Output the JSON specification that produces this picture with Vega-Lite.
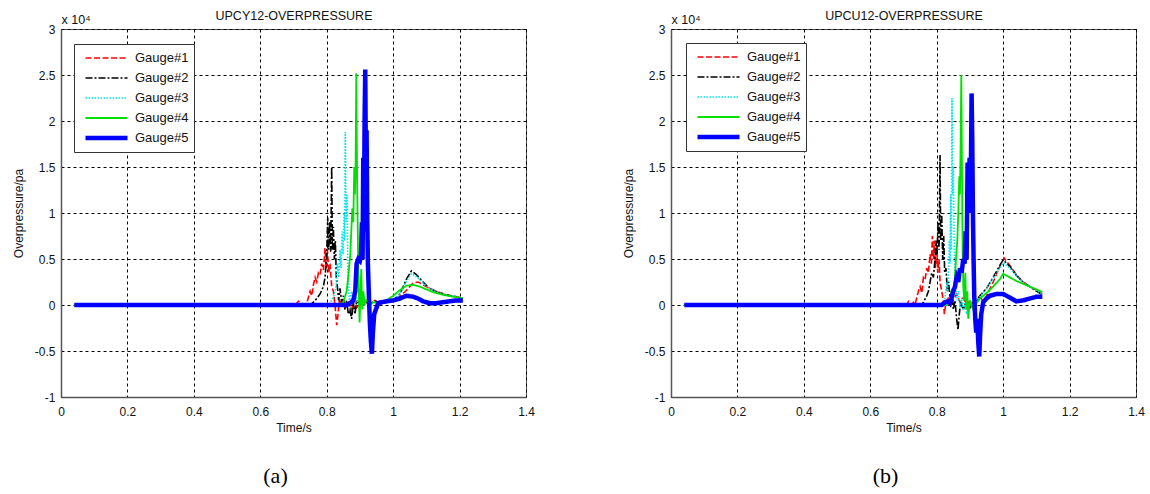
{
"$schema": "https://vega.github.io/schema/vega-lite/v6.json",
"padding": {"left": 11, "top": 8, "right": 5, "bottom": 5},
"spacing": 145,
"bounds": "flush",
"config": {
  "view": {"stroke": "#555", "strokeWidth": 1},
  "font": "Liberation Sans",
  "axis": {"labelFont": "Liberation Sans", "labelFontSize": 12, "labelColor": "#111", "titleFont": "Liberation Sans", "titleFontSize": 12, "titleFontWeight": "normal", "titleColor": "#111", "gridColor": "#000", "gridDash": [3, 3], "gridWidth": 1, "gridOpacity": 1, "domainColor": "#555", "domainWidth": 1.5, "ticks": false}
},
"resolve": {"scale": {"color": "independent", "strokeDash": "independent", "strokeWidth": "independent"}},
"datasets": {
"a": [
{"g":"Gauge#1","t":0.04,"v":0},{"g":"Gauge#1","t":0.705,"v":0},{"g":"Gauge#1","t":0.715,"v":400},{"g":"Gauge#1","t":0.722,"v":300},{"g":"Gauge#1","t":0.728,"v":0},{"g":"Gauge#1","t":0.74,"v":200},{"g":"Gauge#1","t":0.75,"v":1500},{"g":"Gauge#1","t":0.755,"v":1000},{"g":"Gauge#1","t":0.76,"v":2200},{"g":"Gauge#1","t":0.765,"v":3000},{"g":"Gauge#1","t":0.77,"v":2500},{"g":"Gauge#1","t":0.775,"v":3500},{"g":"Gauge#1","t":0.78,"v":3300},{"g":"Gauge#1","t":0.785,"v":4500},{"g":"Gauge#1","t":0.79,"v":3800},{"g":"Gauge#1","t":0.795,"v":6200},{"g":"Gauge#1","t":0.798,"v":4000},{"g":"Gauge#1","t":0.802,"v":6000},{"g":"Gauge#1","t":0.806,"v":3500},{"g":"Gauge#1","t":0.81,"v":4500},{"g":"Gauge#1","t":0.815,"v":2000},{"g":"Gauge#1","t":0.82,"v":1500},{"g":"Gauge#1","t":0.825,"v":0},{"g":"Gauge#1","t":0.83,"v":-2200},{"g":"Gauge#1","t":0.834,"v":-1000},{"g":"Gauge#1","t":0.838,"v":500},{"g":"Gauge#1","t":0.845,"v":200},{"g":"Gauge#1","t":0.855,"v":-300},{"g":"Gauge#1","t":0.865,"v":300},{"g":"Gauge#1","t":0.875,"v":-500},{"g":"Gauge#1","t":0.882,"v":600},{"g":"Gauge#1","t":0.89,"v":-300},{"g":"Gauge#1","t":0.9,"v":200},{"g":"Gauge#1","t":0.91,"v":0},{"g":"Gauge#1","t":0.92,"v":300},{"g":"Gauge#1","t":0.93,"v":100},{"g":"Gauge#1","t":0.945,"v":500},{"g":"Gauge#1","t":0.955,"v":100},{"g":"Gauge#1","t":0.97,"v":200},{"g":"Gauge#1","t":0.985,"v":300},{"g":"Gauge#1","t":1.0,"v":400},{"g":"Gauge#1","t":1.02,"v":900},{"g":"Gauge#1","t":1.04,"v":1600},{"g":"Gauge#1","t":1.06,"v":2400},{"g":"Gauge#1","t":1.075,"v":2500},{"g":"Gauge#1","t":1.09,"v":2200},{"g":"Gauge#1","t":1.11,"v":1800},{"g":"Gauge#1","t":1.13,"v":1500},{"g":"Gauge#1","t":1.16,"v":1100},{"g":"Gauge#1","t":1.19,"v":900},{"g":"Gauge#1","t":1.21,"v":700},
{"g":"Gauge#2","t":0.04,"v":0},{"g":"Gauge#2","t":0.75,"v":0},{"g":"Gauge#2","t":0.76,"v":300},{"g":"Gauge#2","t":0.77,"v":700},{"g":"Gauge#2","t":0.78,"v":1200},{"g":"Gauge#2","t":0.79,"v":2000},{"g":"Gauge#2","t":0.795,"v":3000},{"g":"Gauge#2","t":0.8,"v":5500},{"g":"Gauge#2","t":0.803,"v":9500},{"g":"Gauge#2","t":0.806,"v":6000},{"g":"Gauge#2","t":0.809,"v":9000},{"g":"Gauge#2","t":0.812,"v":5800},{"g":"Gauge#2","t":0.815,"v":15000},{"g":"Gauge#2","t":0.817,"v":6000},{"g":"Gauge#2","t":0.82,"v":8500},{"g":"Gauge#2","t":0.823,"v":5000},{"g":"Gauge#2","t":0.826,"v":7000},{"g":"Gauge#2","t":0.829,"v":3000},{"g":"Gauge#2","t":0.832,"v":2000},{"g":"Gauge#2","t":0.836,"v":500},{"g":"Gauge#2","t":0.84,"v":1800},{"g":"Gauge#2","t":0.845,"v":300},{"g":"Gauge#2","t":0.85,"v":1000},{"g":"Gauge#2","t":0.855,"v":-500},{"g":"Gauge#2","t":0.86,"v":500},{"g":"Gauge#2","t":0.865,"v":-1000},{"g":"Gauge#2","t":0.87,"v":-500},{"g":"Gauge#2","t":0.875,"v":-1500},{"g":"Gauge#2","t":0.88,"v":300},{"g":"Gauge#2","t":0.885,"v":-1000},{"g":"Gauge#2","t":0.89,"v":500},{"g":"Gauge#2","t":0.9,"v":0},{"g":"Gauge#2","t":0.91,"v":300},{"g":"Gauge#2","t":0.93,"v":200},{"g":"Gauge#2","t":0.95,"v":400},{"g":"Gauge#2","t":0.97,"v":300},{"g":"Gauge#2","t":1.0,"v":500},{"g":"Gauge#2","t":1.02,"v":1200},{"g":"Gauge#2","t":1.04,"v":2800},{"g":"Gauge#2","t":1.055,"v":3700},{"g":"Gauge#2","t":1.07,"v":3300},{"g":"Gauge#2","t":1.09,"v":2500},{"g":"Gauge#2","t":1.11,"v":1800},{"g":"Gauge#2","t":1.13,"v":1400},{"g":"Gauge#2","t":1.16,"v":1100},{"g":"Gauge#2","t":1.19,"v":900},{"g":"Gauge#2","t":1.21,"v":700},
{"g":"Gauge#3","t":0.04,"v":0},{"g":"Gauge#3","t":0.8,"v":0},{"g":"Gauge#3","t":0.81,"v":200},{"g":"Gauge#3","t":0.82,"v":800},{"g":"Gauge#3","t":0.828,"v":2000},{"g":"Gauge#3","t":0.832,"v":4500},{"g":"Gauge#3","t":0.836,"v":3000},{"g":"Gauge#3","t":0.84,"v":6000},{"g":"Gauge#3","t":0.843,"v":4000},{"g":"Gauge#3","t":0.846,"v":8000},{"g":"Gauge#3","t":0.849,"v":5500},{"g":"Gauge#3","t":0.852,"v":10000},{"g":"Gauge#3","t":0.854,"v":7000},{"g":"Gauge#3","t":0.856,"v":18800},{"g":"Gauge#3","t":0.858,"v":9000},{"g":"Gauge#3","t":0.861,"v":12000},{"g":"Gauge#3","t":0.864,"v":3000},{"g":"Gauge#3","t":0.868,"v":500},{"g":"Gauge#3","t":0.875,"v":1500},{"g":"Gauge#3","t":0.88,"v":200},{"g":"Gauge#3","t":0.89,"v":800},{"g":"Gauge#3","t":0.9,"v":-300},{"g":"Gauge#3","t":0.91,"v":200},{"g":"Gauge#3","t":0.925,"v":-200},{"g":"Gauge#3","t":0.94,"v":300},{"g":"Gauge#3","t":0.96,"v":200},{"g":"Gauge#3","t":0.98,"v":300},{"g":"Gauge#3","t":1.0,"v":500},{"g":"Gauge#3","t":1.02,"v":1200},{"g":"Gauge#3","t":1.04,"v":2600},{"g":"Gauge#3","t":1.055,"v":3400},{"g":"Gauge#3","t":1.07,"v":3100},{"g":"Gauge#3","t":1.09,"v":2400},{"g":"Gauge#3","t":1.11,"v":1800},{"g":"Gauge#3","t":1.13,"v":1400},{"g":"Gauge#3","t":1.16,"v":1100},{"g":"Gauge#3","t":1.19,"v":900},{"g":"Gauge#3","t":1.21,"v":700},
{"g":"Gauge#4","t":0.04,"v":0},{"g":"Gauge#4","t":0.84,"v":0},{"g":"Gauge#4","t":0.85,"v":300},{"g":"Gauge#4","t":0.86,"v":1500},{"g":"Gauge#4","t":0.866,"v":3500},{"g":"Gauge#4","t":0.871,"v":5500},{"g":"Gauge#4","t":0.874,"v":8000},{"g":"Gauge#4","t":0.877,"v":10500},{"g":"Gauge#4","t":0.88,"v":9000},{"g":"Gauge#4","t":0.883,"v":15000},{"g":"Gauge#4","t":0.885,"v":12000},{"g":"Gauge#4","t":0.887,"v":15500},{"g":"Gauge#4","t":0.889,"v":25200},{"g":"Gauge#4","t":0.892,"v":12000},{"g":"Gauge#4","t":0.895,"v":4000},{"g":"Gauge#4","t":0.899,"v":-1900},{"g":"Gauge#4","t":0.902,"v":1500},{"g":"Gauge#4","t":0.904,"v":3900},{"g":"Gauge#4","t":0.907,"v":-500},{"g":"Gauge#4","t":0.91,"v":1500},{"g":"Gauge#4","t":0.915,"v":200},{"g":"Gauge#4","t":0.92,"v":500},{"g":"Gauge#4","t":0.93,"v":0},{"g":"Gauge#4","t":0.94,"v":300},{"g":"Gauge#4","t":0.96,"v":200},{"g":"Gauge#4","t":0.98,"v":500},{"g":"Gauge#4","t":1.0,"v":1000},{"g":"Gauge#4","t":1.02,"v":1600},{"g":"Gauge#4","t":1.04,"v":2100},{"g":"Gauge#4","t":1.06,"v":2200},{"g":"Gauge#4","t":1.08,"v":2000},{"g":"Gauge#4","t":1.1,"v":1700},{"g":"Gauge#4","t":1.12,"v":1400},{"g":"Gauge#4","t":1.15,"v":1100},{"g":"Gauge#4","t":1.18,"v":900},{"g":"Gauge#4","t":1.21,"v":700},
{"g":"Gauge#5","t":0.04,"v":0},{"g":"Gauge#5","t":0.86,"v":0},{"g":"Gauge#5","t":0.87,"v":200},{"g":"Gauge#5","t":0.88,"v":500},{"g":"Gauge#5","t":0.886,"v":1500},{"g":"Gauge#5","t":0.89,"v":4500},{"g":"Gauge#5","t":0.895,"v":5000},{"g":"Gauge#5","t":0.9,"v":4800},{"g":"Gauge#5","t":0.903,"v":5300},{"g":"Gauge#5","t":0.906,"v":9000},{"g":"Gauge#5","t":0.908,"v":5000},{"g":"Gauge#5","t":0.91,"v":16000},{"g":"Gauge#5","t":0.912,"v":8000},{"g":"Gauge#5","t":0.914,"v":20000},{"g":"Gauge#5","t":0.916,"v":25600},{"g":"Gauge#5","t":0.918,"v":15000},{"g":"Gauge#5","t":0.92,"v":19000},{"g":"Gauge#5","t":0.922,"v":9500},{"g":"Gauge#5","t":0.924,"v":4500},{"g":"Gauge#5","t":0.927,"v":1000},{"g":"Gauge#5","t":0.93,"v":-2000},{"g":"Gauge#5","t":0.933,"v":-4000},{"g":"Gauge#5","t":0.936,"v":-5300},{"g":"Gauge#5","t":0.939,"v":-3000},{"g":"Gauge#5","t":0.943,"v":-1000},{"g":"Gauge#5","t":0.948,"v":-500},{"g":"Gauge#5","t":0.955,"v":200},{"g":"Gauge#5","t":0.965,"v":300},{"g":"Gauge#5","t":0.98,"v":400},{"g":"Gauge#5","t":1.0,"v":500},{"g":"Gauge#5","t":1.02,"v":700},{"g":"Gauge#5","t":1.04,"v":1000},{"g":"Gauge#5","t":1.06,"v":900},{"g":"Gauge#5","t":1.075,"v":700},{"g":"Gauge#5","t":1.09,"v":400},{"g":"Gauge#5","t":1.11,"v":200},{"g":"Gauge#5","t":1.13,"v":200},{"g":"Gauge#5","t":1.15,"v":300},{"g":"Gauge#5","t":1.17,"v":400},{"g":"Gauge#5","t":1.19,"v":500},{"g":"Gauge#5","t":1.21,"v":500}
],
"b": [
{"g":"Gauge#1","t":0.04,"v":0},{"g":"Gauge#1","t":0.71,"v":0},{"g":"Gauge#1","t":0.715,"v":400},{"g":"Gauge#1","t":0.72,"v":200},{"g":"Gauge#1","t":0.725,"v":0},{"g":"Gauge#1","t":0.73,"v":300},{"g":"Gauge#1","t":0.735,"v":100},{"g":"Gauge#1","t":0.745,"v":1500},{"g":"Gauge#1","t":0.75,"v":2000},{"g":"Gauge#1","t":0.755,"v":1300},{"g":"Gauge#1","t":0.76,"v":3000},{"g":"Gauge#1","t":0.765,"v":2800},{"g":"Gauge#1","t":0.77,"v":4000},{"g":"Gauge#1","t":0.775,"v":3500},{"g":"Gauge#1","t":0.78,"v":5500},{"g":"Gauge#1","t":0.784,"v":4500},{"g":"Gauge#1","t":0.787,"v":7500},{"g":"Gauge#1","t":0.79,"v":5000},{"g":"Gauge#1","t":0.793,"v":7000},{"g":"Gauge#1","t":0.796,"v":4000},{"g":"Gauge#1","t":0.8,"v":6500},{"g":"Gauge#1","t":0.803,"v":3500},{"g":"Gauge#1","t":0.807,"v":5000},{"g":"Gauge#1","t":0.81,"v":2500},{"g":"Gauge#1","t":0.815,"v":1500},{"g":"Gauge#1","t":0.82,"v":500},{"g":"Gauge#1","t":0.823,"v":-1000},{"g":"Gauge#1","t":0.826,"v":-200},{"g":"Gauge#1","t":0.83,"v":500},{"g":"Gauge#1","t":0.84,"v":1000},{"g":"Gauge#1","t":0.85,"v":500},{"g":"Gauge#1","t":0.86,"v":1200},{"g":"Gauge#1","t":0.87,"v":300},{"g":"Gauge#1","t":0.88,"v":800},{"g":"Gauge#1","t":0.89,"v":0},{"g":"Gauge#1","t":0.9,"v":500},{"g":"Gauge#1","t":0.91,"v":-500},{"g":"Gauge#1","t":0.92,"v":300},{"g":"Gauge#1","t":0.93,"v":1000},{"g":"Gauge#1","t":0.94,"v":300},{"g":"Gauge#1","t":0.95,"v":1000},{"g":"Gauge#1","t":0.97,"v":2500},{"g":"Gauge#1","t":0.99,"v":4200},{"g":"Gauge#1","t":1.003,"v":5100},{"g":"Gauge#1","t":1.02,"v":4300},{"g":"Gauge#1","t":1.04,"v":3300},{"g":"Gauge#1","t":1.06,"v":2500},{"g":"Gauge#1","t":1.08,"v":2000},{"g":"Gauge#1","t":1.1,"v":1600},{"g":"Gauge#1","t":1.118,"v":1200},
{"g":"Gauge#2","t":0.04,"v":0},{"g":"Gauge#2","t":0.755,"v":0},{"g":"Gauge#2","t":0.76,"v":300},{"g":"Gauge#2","t":0.77,"v":1000},{"g":"Gauge#2","t":0.775,"v":1500},{"g":"Gauge#2","t":0.78,"v":2500},{"g":"Gauge#2","t":0.785,"v":3500},{"g":"Gauge#2","t":0.79,"v":3000},{"g":"Gauge#2","t":0.795,"v":5000},{"g":"Gauge#2","t":0.798,"v":7000},{"g":"Gauge#2","t":0.801,"v":5500},{"g":"Gauge#2","t":0.804,"v":9000},{"g":"Gauge#2","t":0.807,"v":6000},{"g":"Gauge#2","t":0.81,"v":16300},{"g":"Gauge#2","t":0.812,"v":7000},{"g":"Gauge#2","t":0.815,"v":10000},{"g":"Gauge#2","t":0.818,"v":5000},{"g":"Gauge#2","t":0.821,"v":7500},{"g":"Gauge#2","t":0.824,"v":3500},{"g":"Gauge#2","t":0.828,"v":4000},{"g":"Gauge#2","t":0.832,"v":1500},{"g":"Gauge#2","t":0.836,"v":2500},{"g":"Gauge#2","t":0.84,"v":800},{"g":"Gauge#2","t":0.845,"v":1500},{"g":"Gauge#2","t":0.85,"v":-500},{"g":"Gauge#2","t":0.855,"v":500},{"g":"Gauge#2","t":0.86,"v":-1500},{"g":"Gauge#2","t":0.864,"v":-2700},{"g":"Gauge#2","t":0.868,"v":-1000},{"g":"Gauge#2","t":0.872,"v":300},{"g":"Gauge#2","t":0.88,"v":-500},{"g":"Gauge#2","t":0.89,"v":500},{"g":"Gauge#2","t":0.9,"v":-300},{"g":"Gauge#2","t":0.91,"v":300},{"g":"Gauge#2","t":0.92,"v":500},{"g":"Gauge#2","t":0.93,"v":1000},{"g":"Gauge#2","t":0.95,"v":1800},{"g":"Gauge#2","t":0.97,"v":3000},{"g":"Gauge#2","t":0.99,"v":4300},{"g":"Gauge#2","t":1.0,"v":4900},{"g":"Gauge#2","t":1.02,"v":4200},{"g":"Gauge#2","t":1.04,"v":3200},{"g":"Gauge#2","t":1.06,"v":2500},{"g":"Gauge#2","t":1.08,"v":2000},{"g":"Gauge#2","t":1.1,"v":1500},{"g":"Gauge#2","t":1.118,"v":1100},
{"g":"Gauge#3","t":0.04,"v":0},{"g":"Gauge#3","t":0.815,"v":0},{"g":"Gauge#3","t":0.82,"v":200},{"g":"Gauge#3","t":0.825,"v":800},{"g":"Gauge#3","t":0.83,"v":2500},{"g":"Gauge#3","t":0.833,"v":1500},{"g":"Gauge#3","t":0.836,"v":4000},{"g":"Gauge#3","t":0.838,"v":7000},{"g":"Gauge#3","t":0.84,"v":4500},{"g":"Gauge#3","t":0.842,"v":12000},{"g":"Gauge#3","t":0.844,"v":6000},{"g":"Gauge#3","t":0.846,"v":22500},{"g":"Gauge#3","t":0.848,"v":12000},{"g":"Gauge#3","t":0.85,"v":15000},{"g":"Gauge#3","t":0.852,"v":8000},{"g":"Gauge#3","t":0.855,"v":3000},{"g":"Gauge#3","t":0.86,"v":500},{"g":"Gauge#3","t":0.865,"v":1500},{"g":"Gauge#3","t":0.87,"v":-300},{"g":"Gauge#3","t":0.875,"v":800},{"g":"Gauge#3","t":0.88,"v":-600},{"g":"Gauge#3","t":0.885,"v":200},{"g":"Gauge#3","t":0.89,"v":-1000},{"g":"Gauge#3","t":0.895,"v":-300},{"g":"Gauge#3","t":0.9,"v":500},{"g":"Gauge#3","t":0.91,"v":-200},{"g":"Gauge#3","t":0.92,"v":300},{"g":"Gauge#3","t":0.93,"v":900},{"g":"Gauge#3","t":0.95,"v":1800},{"g":"Gauge#3","t":0.97,"v":2900},{"g":"Gauge#3","t":0.99,"v":4000},{"g":"Gauge#3","t":1.0,"v":4600},{"g":"Gauge#3","t":1.02,"v":4000},{"g":"Gauge#3","t":1.04,"v":3200},{"g":"Gauge#3","t":1.06,"v":2500},{"g":"Gauge#3","t":1.08,"v":2000},{"g":"Gauge#3","t":1.1,"v":1600},{"g":"Gauge#3","t":1.118,"v":1200},
{"g":"Gauge#4","t":0.04,"v":0},{"g":"Gauge#4","t":0.83,"v":0},{"g":"Gauge#4","t":0.84,"v":500},{"g":"Gauge#4","t":0.845,"v":1500},{"g":"Gauge#4","t":0.85,"v":1000},{"g":"Gauge#4","t":0.855,"v":3000},{"g":"Gauge#4","t":0.858,"v":5000},{"g":"Gauge#4","t":0.862,"v":7000},{"g":"Gauge#4","t":0.865,"v":10000},{"g":"Gauge#4","t":0.868,"v":14000},{"g":"Gauge#4","t":0.87,"v":12000},{"g":"Gauge#4","t":0.872,"v":17500},{"g":"Gauge#4","t":0.874,"v":25000},{"g":"Gauge#4","t":0.876,"v":15000},{"g":"Gauge#4","t":0.878,"v":6000},{"g":"Gauge#4","t":0.88,"v":2000},{"g":"Gauge#4","t":0.883,"v":500},{"g":"Gauge#4","t":0.886,"v":3500},{"g":"Gauge#4","t":0.889,"v":-500},{"g":"Gauge#4","t":0.892,"v":1500},{"g":"Gauge#4","t":0.895,"v":-1500},{"g":"Gauge#4","t":0.9,"v":500},{"g":"Gauge#4","t":0.91,"v":-500},{"g":"Gauge#4","t":0.92,"v":200},{"g":"Gauge#4","t":0.93,"v":700},{"g":"Gauge#4","t":0.95,"v":1300},{"g":"Gauge#4","t":0.97,"v":2000},{"g":"Gauge#4","t":0.99,"v":2800},{"g":"Gauge#4","t":1.0,"v":3400},{"g":"Gauge#4","t":1.02,"v":3000},{"g":"Gauge#4","t":1.04,"v":2600},{"g":"Gauge#4","t":1.06,"v":2300},{"g":"Gauge#4","t":1.08,"v":2000},{"g":"Gauge#4","t":1.1,"v":1700},{"g":"Gauge#4","t":1.118,"v":1400},
{"g":"Gauge#5","t":0.04,"v":0},{"g":"Gauge#5","t":0.815,"v":0},{"g":"Gauge#5","t":0.825,"v":300},{"g":"Gauge#5","t":0.835,"v":400},{"g":"Gauge#5","t":0.84,"v":200},{"g":"Gauge#5","t":0.845,"v":800},{"g":"Gauge#5","t":0.85,"v":1500},{"g":"Gauge#5","t":0.855,"v":2000},{"g":"Gauge#5","t":0.86,"v":3000},{"g":"Gauge#5","t":0.865,"v":2500},{"g":"Gauge#5","t":0.87,"v":4000},{"g":"Gauge#5","t":0.875,"v":3500},{"g":"Gauge#5","t":0.88,"v":5000},{"g":"Gauge#5","t":0.884,"v":4500},{"g":"Gauge#5","t":0.887,"v":8000},{"g":"Gauge#5","t":0.89,"v":5000},{"g":"Gauge#5","t":0.893,"v":15500},{"g":"Gauge#5","t":0.896,"v":10000},{"g":"Gauge#5","t":0.899,"v":16000},{"g":"Gauge#5","t":0.902,"v":11000},{"g":"Gauge#5","t":0.905,"v":23000},{"g":"Gauge#5","t":0.907,"v":18000},{"g":"Gauge#5","t":0.909,"v":10000},{"g":"Gauge#5","t":0.911,"v":5000},{"g":"Gauge#5","t":0.913,"v":1000},{"g":"Gauge#5","t":0.916,"v":-1500},{"g":"Gauge#5","t":0.919,"v":-3000},{"g":"Gauge#5","t":0.922,"v":-1500},{"g":"Gauge#5","t":0.925,"v":-4000},{"g":"Gauge#5","t":0.928,"v":-5600},{"g":"Gauge#5","t":0.931,"v":-3000},{"g":"Gauge#5","t":0.934,"v":-1000},{"g":"Gauge#5","t":0.94,"v":300},{"g":"Gauge#5","t":0.95,"v":700},{"g":"Gauge#5","t":0.96,"v":1000},{"g":"Gauge#5","t":0.98,"v":1200},{"g":"Gauge#5","t":1.0,"v":1200},{"g":"Gauge#5","t":1.02,"v":800},{"g":"Gauge#5","t":1.04,"v":400},{"g":"Gauge#5","t":1.06,"v":500},{"g":"Gauge#5","t":1.08,"v":700},{"g":"Gauge#5","t":1.1,"v":900},{"g":"Gauge#5","t":1.118,"v":900}
]
},
"hconcat": [
{
  "width": 465, "height": 368,
  "data": {"name": "a"},
  "title": {"text": "(a)", "orient": "bottom", "font": "Liberation Serif", "fontSize": 22, "fontWeight": "normal", "color": "#000", "offset": 33, "dx": -18},
  "layer": [
    {
      "mark": {"type": "line"},
      "encoding": {
        "x": {"field": "t", "type": "quantitative", "scale": {"domain": [0, 1.4], "nice": false, "zero": false},
              "axis": {"orient": "bottom", "title": "Time/s", "values": [0, 0.2, 0.4, 0.6, 0.8, 1, 1.2, 1.4], "labelExpr": "'' + datum.value", "grid": true, "labelPadding": 9, "titlePadding": 5, "labelFlush": false}},
        "y": {"field": "v", "type": "quantitative", "scale": {"domain": [-10000, 30000], "nice": false, "zero": false},
              "axis": {"title": "Overpressure/pa", "values": [-10000, -5000, 0, 5000, 10000, 15000, 20000, 25000, 30000], "labelExpr": "'' + (datum.value / 10000)", "grid": true, "labelPadding": 6, "titlePadding": 9, "labelFlush": false}},
        "color": {"field": "g", "type": "nominal", "scale": {"domain": ["Gauge#1", "Gauge#2", "Gauge#3", "Gauge#4", "Gauge#5"], "range": ["#ff0000", "#000000", "#00e5ee", "#00e000", "#0000ff"]},
                  "legend": {"title": null, "orient": "none", "legendX": 13, "legendY": 15, "fillColor": "#ffffff", "strokeColor": "#333", "padding": 5, "symbolType": "stroke", "symbolSize": 1764, "clipHeight": 18, "rowPadding": 2, "symbolOffset": 4, "labelOffset": 5, "labelFont": "Liberation Sans", "labelFontSize": 13, "labelColor": "#111"}},
        "strokeDash": {"field": "g", "type": "nominal", "scale": {"domain": ["Gauge#1", "Gauge#2", "Gauge#3", "Gauge#4", "Gauge#5"], "range": [[6, 2.5], [7, 2, 2, 2], [1.5, 1.5], [1, 0], [1, 0]]},
                  "legend": {"title": null, "orient": "none", "legendX": 13, "legendY": 15, "fillColor": "#ffffff", "strokeColor": "#333", "padding": 5, "symbolType": "stroke", "symbolSize": 1764, "clipHeight": 18, "rowPadding": 2, "symbolOffset": 4, "labelOffset": 5, "labelFont": "Liberation Sans", "labelFontSize": 13, "labelColor": "#111"}},
        "strokeWidth": {"field": "g", "type": "nominal", "scale": {"type": "ordinal", "domain": ["Gauge#1", "Gauge#2", "Gauge#3", "Gauge#4", "Gauge#5"], "range": [1.6, 1.6, 1.6, 1.8, 4.5]},
                  "legend": {"title": null, "orient": "none", "legendX": 13, "legendY": 15, "fillColor": "#ffffff", "strokeColor": "#333", "padding": 5, "symbolType": "stroke", "symbolSize": 1764, "clipHeight": 18, "rowPadding": 2, "symbolOffset": 4, "labelOffset": 5, "labelFont": "Liberation Sans", "labelFontSize": 13, "labelColor": "#111"}}
      }
    },
    {
      "mark": {"type": "point", "opacity": 0},
      "encoding": {
        "x": {"field": "t", "type": "quantitative",
              "axis": {"orient": "top", "values": [0], "labelExpr": "'x 10⁴'", "labelAlign": "left", "labelBaseline": "alphabetic", "labelPadding": 6, "labelFontSize": 12.5, "grid": false, "domain": false, "ticks": false, "title": "UPCY12-OVERPRESSURE", "titleY": -10, "titleBaseline": "alphabetic", "titleFontSize": 12.5, "labelFlush": false}}
      }
    }
  ]
},
{
  "width": 465, "height": 368,
  "data": {"name": "b"},
  "title": {"text": "(b)", "orient": "bottom", "font": "Liberation Serif", "fontSize": 22, "fontWeight": "normal", "color": "#000", "offset": 33, "dx": -18},
  "layer": [
    {
      "mark": {"type": "line"},
      "encoding": {
        "x": {"field": "t", "type": "quantitative", "scale": {"domain": [0, 1.4], "nice": false, "zero": false},
              "axis": {"orient": "bottom", "title": "Time/s", "values": [0, 0.2, 0.4, 0.6, 0.8, 1, 1.2, 1.4], "labelExpr": "'' + datum.value", "grid": true, "labelPadding": 9, "titlePadding": 5, "labelFlush": false}},
        "y": {"field": "v", "type": "quantitative", "scale": {"domain": [-10000, 30000], "nice": false, "zero": false},
              "axis": {"title": "Overpressure/pa", "values": [-10000, -5000, 0, 5000, 10000, 15000, 20000, 25000, 30000], "labelExpr": "'' + (datum.value / 10000)", "grid": true, "labelPadding": 6, "titlePadding": 9, "labelFlush": false}},
        "color": {"field": "g", "type": "nominal", "scale": {"domain": ["Gauge#1", "Gauge#2", "Gauge#3", "Gauge#4", "Gauge#5"], "range": ["#ff0000", "#000000", "#00e5ee", "#00e000", "#0000ff"]},
                  "legend": {"title": null, "orient": "none", "legendX": 15, "legendY": 14, "fillColor": "#ffffff", "strokeColor": "#333", "padding": 5, "symbolType": "stroke", "symbolSize": 1764, "clipHeight": 18, "rowPadding": 2, "symbolOffset": 4, "labelOffset": 5, "labelFont": "Liberation Sans", "labelFontSize": 13, "labelColor": "#111"}},
        "strokeDash": {"field": "g", "type": "nominal", "scale": {"domain": ["Gauge#1", "Gauge#2", "Gauge#3", "Gauge#4", "Gauge#5"], "range": [[6, 2.5], [7, 2, 2, 2], [1.5, 1.5], [1, 0], [1, 0]]},
                  "legend": {"title": null, "orient": "none", "legendX": 15, "legendY": 14, "fillColor": "#ffffff", "strokeColor": "#333", "padding": 5, "symbolType": "stroke", "symbolSize": 1764, "clipHeight": 18, "rowPadding": 2, "symbolOffset": 4, "labelOffset": 5, "labelFont": "Liberation Sans", "labelFontSize": 13, "labelColor": "#111"}},
        "strokeWidth": {"field": "g", "type": "nominal", "scale": {"type": "ordinal", "domain": ["Gauge#1", "Gauge#2", "Gauge#3", "Gauge#4", "Gauge#5"], "range": [1.6, 1.6, 1.6, 1.8, 4.5]},
                  "legend": {"title": null, "orient": "none", "legendX": 15, "legendY": 14, "fillColor": "#ffffff", "strokeColor": "#333", "padding": 5, "symbolType": "stroke", "symbolSize": 1764, "clipHeight": 18, "rowPadding": 2, "symbolOffset": 4, "labelOffset": 5, "labelFont": "Liberation Sans", "labelFontSize": 13, "labelColor": "#111"}}
      }
    },
    {
      "mark": {"type": "point", "opacity": 0},
      "encoding": {
        "x": {"field": "t", "type": "quantitative",
              "axis": {"orient": "top", "values": [0], "labelExpr": "'x 10⁴'", "labelAlign": "left", "labelBaseline": "alphabetic", "labelPadding": 6, "labelFontSize": 12.5, "grid": false, "domain": false, "ticks": false, "title": "UPCU12-OVERPRESSURE", "titleY": -10, "titleBaseline": "alphabetic", "titleFontSize": 12.5, "labelFlush": false}}
      }
    }
  ]
}
]
}
